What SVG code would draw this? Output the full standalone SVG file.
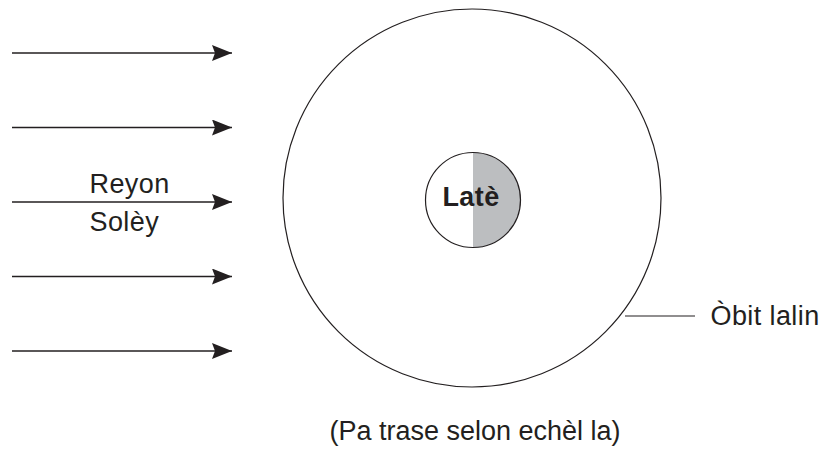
<svg xmlns="http://www.w3.org/2000/svg" width="827" height="449" viewBox="0 0 827 449">
<style>
.t{font-family:"Liberation Sans",Arial,sans-serif;font-size:27px;fill:#231f20;letter-spacing:0.4px}
.ray{stroke:#231f20;stroke-width:1.5;fill:none}
</style>
<defs>
<marker id="ah" viewBox="0 0 20 16" refX="20" refY="8" markerWidth="20" markerHeight="16" markerUnits="userSpaceOnUse" orient="auto">
<path d="M0,0 L20,8 L0,16 L3,8 Z" fill="#231f20"/>
</marker>
</defs>
<rect width="827" height="449" fill="#fff"/>
<g id="connectors">
<line class="ray" x1="12" y1="53" x2="232" y2="53" marker-end="url(#ah)"/>
<line class="ray" x1="12" y1="127.5" x2="232" y2="127.5" marker-end="url(#ah)"/>
<line class="ray" x1="12" y1="202" x2="232" y2="202" marker-end="url(#ah)"/>
<line class="ray" x1="12" y1="276.5" x2="232" y2="276.5" marker-end="url(#ah)"/>
<line class="ray" x1="12" y1="351" x2="232" y2="351" marker-end="url(#ah)"/>
<line x1="625" y1="316" x2="695" y2="316" stroke="#231f20" stroke-width="1.2"/>
</g>
<g id="orbit">
<circle cx="472" cy="198" r="189" fill="none" stroke="#231f20" stroke-width="1.2"/>
</g>
<g id="earth">
<path d="M473,152.5 A47.5,47.5 0 0 1 473,247.5 Z" fill="#bcbec0"/>
<circle cx="473" cy="200" r="47.5" fill="none" stroke="#231f20" stroke-width="1.2"/>
<text class="t" x="471" y="206" text-anchor="middle" font-weight="bold" font-size="27">Latè</text>
</g>
<g id="labels">
<text class="t" x="89.5" y="193">Reyon</text>
<text class="t" x="89.5" y="231">Solèy</text>
<text class="t" x="710.5" y="325">Òbit lalin</text>
<text class="t" x="475" y="440" text-anchor="middle" style="letter-spacing:0">(Pa trase selon echèl la)</text>
</g>
</svg>
